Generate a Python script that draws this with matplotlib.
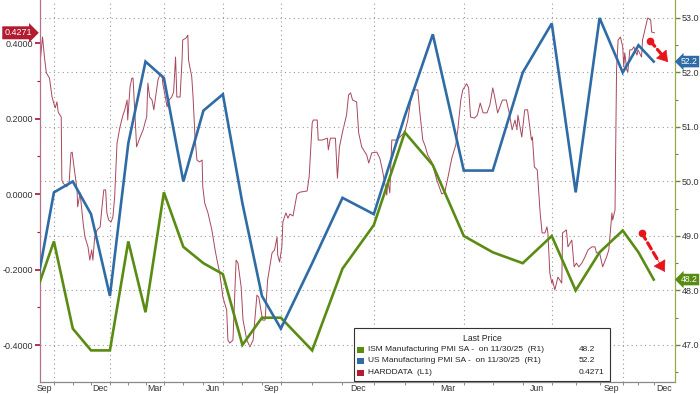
import numpy as np
import pandas as pd
import matplotlib
matplotlib.use("Agg")
import matplotlib.pyplot as plt
import matplotlib.dates as mdates
from matplotlib.patches import Rectangle
from matplotlib.transforms import blended_transform_factory
from matplotlib.ticker import FixedLocator, FormatStrFormatter, MultipleLocator

plt.rcParams["font.family"] = ["Liberation Sans", "DejaVu Sans"]

# monthly PMIs (right axis), month-end values Aug-23 .. Nov-25
pmi_months = pd.period_range("2023-08", "2025-11", freq="M").to_timestamp(how="end").normalize()
ism_pmi = [47.9, 48.9, 47.3, 46.9, 46.9,
           48.9, 47.6, 49.8, 48.8, 48.5, 48.3, 47.0, 47.5, 47.5, 46.9, 48.4, 49.2,
           50.9, 50.3, 49.0, 48.7, 48.5, 49.0, 48.0, 48.7, 49.1, 48.7, 48.2]
us_pmi = [47.9, 49.8, 50.0, 49.4, 47.9,
          50.7, 52.2, 51.9, 50.0, 51.3, 51.6, 49.6, 47.9, 47.3, 48.5, 49.7, 49.4,
          51.2, 52.7, 50.2, 50.2, 52.0, 52.9, 49.8, 53.0, 52.0, 52.5, 52.2]

# HARDDATA index (left axis): days after 2023-09-30 and level
hd_days = [-23, -18, -15, -12, -7, -3, 2, 5, 7, 12, 13, 15, 21, 25, 28, 30, 33, 38, 39, 43,
           48, 51, 56, 59, 62, 64, 67, 71, 76, 79, 82, 85, 87, 90, 94, 97, 100, 104, 105, 109,
           114, 117, 121, 122, 126, 129, 131, 134, 137, 143, 148, 151, 154, 156, 159, 163, 166, 169, 173, 176,
           180, 181, 188, 191, 195, 198, 201, 203, 208, 211, 212, 217, 220, 221, 226, 228, 231, 234, 238, 242,
           243, 246, 251, 257, 262, 265, 269, 272, 274, 280, 282, 285, 290, 295, 298, 303, 306, 312, 317, 322,
           328, 331, 337, 341, 345, 352, 356, 360, 361, 364, 367, 368, 371, 373, 375, 378, 382, 385, 392, 394,
           397, 398, 402, 403, 407, 412, 413, 415, 420, 422, 424, 427, 431, 433, 435, 437, 441, 443, 446, 451,
           453, 456, 461, 464, 467, 471, 472, 474, 476, 481, 484, 489, 492, 496, 499, 502, 504, 507, 509, 512,
           516, 521, 526, 529, 532, 536, 540, 542, 545, 547, 551, 553, 555, 559, 562, 565, 568, 572, 575, 578,
           580, 583, 588, 592, 595, 598, 601, 603, 604, 608, 611, 614, 616, 618, 619, 621, 624, 627, 629, 632,
           634, 635, 637, 639, 640, 643, 647, 652, 653, 658, 660, 665, 668, 671, 674, 678, 682, 686, 691, 695,
           697, 701, 705, 710, 713, 717, 718, 721, 723, 725, 728, 731, 733, 735, 739, 741, 745, 749, 753, 759,
           761, 768, 770, 776, 780, 786, 788, 793]
hd_vals = [0.329, 0.416, 0.363, 0.321, 0.307, 0.257, 0.228, 0.244, 0.217, 0.204, 0.037, 0.029, 0.019, 0.029, 0.109, 0.111, 0.072, 0.011, -0.034, 0.003,
           -0.077, -0.114, -0.140, -0.175, -0.148, -0.175, -0.114, -0.095, -0.087, -0.034, 0.011, 0.011, -0.050, -0.069, -0.074, -0.061, -0.008, 0.135, 0.143, 0.178,
           0.209, 0.223, 0.249, 0.196, 0.284, 0.307, 0.307, 0.215, 0.125, 0.151, 0.170, 0.188, 0.204, 0.294, 0.257, 0.249, 0.223, 0.257, 0.302, 0.315,
           0.315, 0.294, 0.231, 0.249, 0.257, 0.270, 0.363, 0.257, 0.257, 0.355, 0.408, 0.413, 0.421, 0.355, 0.310, 0.257, 0.151, 0.090, 0.085, 0.090,
           0.019, -0.024, -0.050, -0.095, -0.148, -0.175, -0.209, -0.246, -0.273, -0.307, -0.387, -0.395, -0.387, -0.175, -0.183, -0.246, -0.334, -0.387, -0.405, -0.387,
           -0.268, -0.273, -0.334, -0.334, -0.228, -0.156, -0.148, -0.114, -0.162, -0.180, -0.140, -0.074, -0.050, -0.064, -0.053, -0.058, 0.000, 0.005, 0.008, 0.045,
           0.188, 0.196, 0.196, 0.143, 0.143, 0.148, 0.117, 0.148, 0.148, 0.042, 0.125, 0.164, 0.209, 0.262, 0.268, 0.249, 0.244, 0.162, 0.125, 0.103,
           0.082, 0.109, 0.111, 0.095, 0.058, -0.003, 0.037, 0.003, 0.143, 0.143, 0.151, 0.164, 0.196, 0.268, 0.276, 0.276, 0.217, 0.143, 0.130, 0.103,
           0.085, 0.037, 0.000, 0.005, 0.042, 0.095, 0.130, 0.170, 0.249, 0.276, 0.292, 0.281, 0.204, 0.201, 0.209, 0.241, 0.215, 0.215, 0.236, 0.281,
           0.257, 0.215, 0.249, 0.249, 0.215, 0.170, 0.196, 0.170, 0.209, 0.151, 0.223, 0.223, 0.183, 0.143, 0.151, 0.072, 0.064, -0.050, -0.103, -0.103,
           -0.087, -0.103, -0.209, -0.236, -0.228, -0.254, -0.220, -0.236, -0.103, -0.095, -0.140, -0.122, -0.193, -0.183, -0.193, -0.183, -0.167, -0.148, -0.140, -0.140,
           -0.156, -0.156, -0.193, -0.167, -0.148, -0.050, -0.069, -0.042, 0.329, 0.408, 0.416, 0.390, 0.337, 0.374, 0.329, 0.323, 0.382, 0.382, 0.390, 0.368,
           0.382, 0.363, 0.408, 0.443, 0.466, 0.461, 0.429, 0.4271]
hd_dates = pd.Timestamp("2023-09-30") + pd.to_timedelta(hd_days, unit="D")

month_names = ["Sep", "Dec", "Mar", "Jun", "Sep", "Dec", "Mar", "Jun", "Sep", "Dec"]

legend_rows = [
    ("ISM Manufacturing PMI SA -  on 11/30/25  (R1)", f"{ism_pmi[-1]:.1f}"),
    ("US Manufacturing PMI SA -  on 11/30/25  (R1)", f"{us_pmi[-1]:.1f}"),
    ("HARDDATA  (L1)", f"{hd_vals[-1]:.4f}"),
]

# colours
c_ism = "#5a8c14"
c_us = "#2f6ca6"
c_hd = "#a8465c"
c_tag = "#b31b30"
c_arrow = "#e8141c"
c_grid = "#9a9a9a"

# the date axis is not even in the original: quarter ends pinned to pixel columns
scale_dates = pd.to_datetime(["2023-08-31", "2023-09-30", "2023-12-31", "2024-03-31", "2024-06-30",
                              "2024-09-30", "2024-12-31", "2025-03-31", "2025-06-30", "2025-09-30",
                              "2025-11-30", "2025-12-31"])
scale_px = [35, 54, 110, 164, 223, 281, 374, 464, 552, 623, 654, 676]
knots = mdates.date2num(scale_dates)


def fwd(x):
    return np.interp(x, knots, scale_px)


def inv(p):
    return np.interp(p, scale_px, knots)


fig = plt.figure(figsize=(7, 3.94), dpi=100)
ax = fig.add_axes([40 / 700, 12 / 394, 635 / 700, 382 / 394])

ax.plot(hd_dates, hd_vals, color=c_hd, lw=0.7, zorder=2)

ax2 = ax.twinx()
ax2.plot(pmi_months, ism_pmi, color=c_ism, lw=1.9, solid_joinstyle="miter", zorder=3)
ax2.plot(pmi_months, us_pmi, color=c_us, lw=1.9, solid_joinstyle="miter", zorder=3)

ax.set_xscale("function", functions=(fwd, inv))
ax2.set_xscale("function", functions=(fwd, inv))
ax.set_xlim(pd.Timestamp("2023-09-08"), pd.Timestamp("2025-12-30"))

# x ticks: labels mid-month, small marks at month ends, dotted lines at quarter ends
label_dates = pd.date_range("2023-09-01", "2025-12-01", freq="3MS") + pd.Timedelta(days=14)
month_ends = pd.period_range("2023-09", "2025-11", freq="M").to_timestamp(how="end").normalize()
quarter_ends = pd.date_range("2023-09-01", "2025-09-01", freq="3MS") + pd.offsets.MonthEnd(0)
ax.set_xticks(mdates.date2num(label_dates), month_names)
ax.set_xticks(mdates.date2num(month_ends), minor=True)
ax.tick_params(axis="x", which="major", length=0, pad=1.5, labelsize=6.3, labelcolor="#333333")
ax.tick_params(axis="x", which="minor", length=2.5, width=0.6, color="#777777")
for q in quarter_ends:
    ax.axvline(q, color=c_grid, lw=0.8, ls=(0, (1, 3)), zorder=1)

# left axis
ax.set_ylim(-0.498, 0.514)
ax.yaxis.set_major_locator(FixedLocator([-0.4, -0.2, 0.0, 0.2, 0.4]))
ax.yaxis.set_minor_locator(FixedLocator([-0.3, -0.1, 0.1, 0.3]))
ax.yaxis.set_major_formatter(FormatStrFormatter("%.4f"))
ax.tick_params(axis="y", which="both", direction="out", color="#a3132b", labelsize=6.5,
               labelcolor="#333333", pad=1.5)
ax.tick_params(axis="y", which="major", length=3.5, width=1.2)
ax.tick_params(axis="y", which="minor", length=2, width=0.8)

# right axis
ax2.set_ylim(46.32, 53.33)
ax2.yaxis.set_major_locator(MultipleLocator(1.0))
ax2.yaxis.set_minor_locator(MultipleLocator(0.5))
ax2.yaxis.set_major_formatter(FormatStrFormatter("%.1f"))
ax2.tick_params(axis="y", which="both", direction="out", color="#6f8a2a", labelsize=6.5,
                labelcolor="#333333", pad=1.5)
ax2.tick_params(axis="y", which="major", length=3.5, width=1.0)
ax2.tick_params(axis="y", which="minor", length=2, width=0.8)
ax2.grid(axis="y", which="major", color=c_grid, lw=0.8, ls=(0, (1, 3)))

for s in ["top", "right"]:
    ax.spines[s].set_visible(False)
for s in ["top", "left", "bottom"]:
    ax2.spines[s].set_visible(False)
ax.spines["left"].set_color("#b8708a")
ax.spines["bottom"].set_color("#888888")
ax2.spines["right"].set_color("#98a850")
for sp in [ax.spines["left"], ax.spines["bottom"], ax2.spines["right"]]:
    sp.set_linewidth(0.9)

# last value tags
tl = blended_transform_factory(ax.transAxes, ax.transData)
tr = blended_transform_factory(ax2.transAxes, ax2.transData)
ax.text(-0.013, hd_vals[-1], f"{hd_vals[-1]:.4f}", transform=tl, ha="right", va="center",
        fontsize=6.5, color="white",
        bbox=dict(boxstyle="rarrow,pad=0.22", fc=c_tag, ec="none"))
ax2.text(1.0095, us_pmi[-1], f"{us_pmi[-1]:.1f}", transform=tr, ha="left", va="center",
         fontsize=6.2, color="white", zorder=12,
         bbox=dict(boxstyle="larrow,pad=0.15", fc=c_us, ec="none"))
ax2.text(1.0095, ism_pmi[-1], f"{ism_pmi[-1]:.1f}", transform=tr, ha="left", va="center",
         fontsize=6.2, color="white", zorder=12,
         bbox=dict(boxstyle="larrow,pad=0.15", fc=c_ism, ec="none"))


def trend_arrow(x0, y0, x1, y1):
    pts = ("axes fraction", "data")
    xm, ym = x0 + 0.7 * (x1 - x0), y0 + 0.7 * (y1 - y0)
    ax2.annotate("", xy=(xm, ym), xytext=(x0, y0), xycoords=pts, textcoords=pts,
                 arrowprops=dict(arrowstyle="-", color=c_arrow, lw=2.3,
                                 linestyle=(0, (2.2, 1.3)), shrinkA=0, shrinkB=0))
    ax2.annotate("", xy=(x1, y1), xytext=(x0 + 0.55 * (x1 - x0), y0 + 0.55 * (y1 - y0)),
                 xycoords=pts, textcoords=pts,
                 arrowprops=dict(arrowstyle="-|>,head_length=0.7,head_width=0.45",
                                 color=c_arrow, lw=0.5, shrinkA=0, shrinkB=0, mutation_scale=10))
    ax2.plot([x0], [y0], marker="o", ms=4.5, color=c_arrow, transform=tr, clip_on=False)


trend_arrow(0.961, 52.58, 0.989, 52.19)
trend_arrow(0.948, 49.05, 0.984, 48.34)

# legend box
ax2.add_patch(Rectangle((0.4945, 0.003), 0.403, 0.138, transform=ax2.transAxes,
                        fc="white", ec="#333333", lw=0.8, zorder=10))
ax2.text(0.696, 0.1126, "Last Price", transform=ax2.transAxes, ha="center", va="center",
         fontsize=6.2, color="#222222", zorder=11)
row_y = [0.0838, 0.055, 0.0236]
for (label, value), color, y in zip(legend_rows, [c_ism, c_us, c_tag], row_y):
    ax2.add_patch(Rectangle((0.4995, y - 0.009), 0.011, 0.018, transform=ax2.transAxes,
                            fc=color, ec="none", zorder=11))
    ax2.text(0.5165, y, label, transform=ax2.transAxes, ha="left", va="center",
             fontsize=6.0, color="#222222", zorder=11)
    ax2.text(0.849, y, value, transform=ax2.transAxes, ha="left", va="center",
             fontsize=6.0, color="#222222", zorder=11)

fig.savefig("out.png", dpi=100)
